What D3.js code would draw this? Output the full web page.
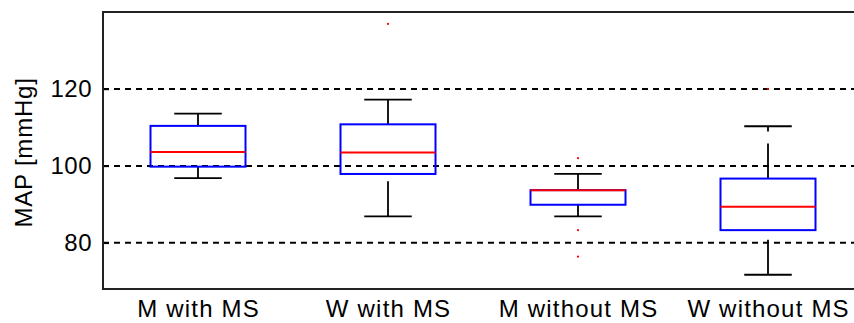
<!DOCTYPE html>
<html>
<head>
<meta charset="utf-8">
<script src="https://cdn.jsdelivr.net/npm/d3@7"></script>
<style>
  body { margin: 0; background: #fff; }
  text { font-family: Arial, "Liberation Sans", sans-serif; fill: #000; }
</style>
</head>
<body>
<svg width="854" height="323"></svg>
<script>
let svg = d3.select("svg");

// box statistics
let groups = ["M with MS", "W with MS", "M without MS", "W without MS"];
let lowWhisker = [96.8, 86.9, 86.9, 71.7];
let q1 = [99.8, 97.9, 89.9, 83.3];
let medians = [103.6, 103.5, 93.7, 89.4];
let q3 = [110.4, 110.8, 93.7, 96.7];
let highWhisker = [113.6, 117.2, 97.9, 110.3];
let outliers = [
    [],
    [136.9],
    [102.0, 83.3, 76.4],
    [120.0]
];
let yTicks = [80, 100, 120];

let x = d3.scaleLinear().domain([0.5, 4.5]).range([103, 863]);
let y = d3.scaleLinear().domain([68, 140]).range([289, 12]);

let boxes = groups.map(function(g, i) {
    return {name: g, pos: i + 1, lo: lowWhisker[i], q1: q1[i], med: medians[i],
            q3: q3[i], hi: highWhisker[i], out: outliers[i]};
});

// dashed grid
svg.append("g")
    .selectAll("line")
    .data(yTicks)
    .enter().append("line")
    .attr("x1", x(0.5)).attr("x2", x(4.5))
    .attr("y1", d => y(d)).attr("y2", d => y(d))
    .attr("stroke", "#000")
    .attr("stroke-width", 2)
    .attr("stroke-dasharray", "6,5");

// y axis, ticks pointing inward, frame drawn separately
let yAxis = svg.append("g")
    .attr("transform", "translate(" + x(0.5) + ",0)")
    .call(d3.axisLeft(y).tickValues(yTicks).tickSize(-6).tickPadding(11));
yAxis.select(".domain").remove();
yAxis.selectAll(".tick line").attr("stroke", "#000").attr("stroke-width", 1.5);
yAxis.selectAll(".tick text")
    .style("font-size", "24px")
    .style("font-family", "Arial, 'Liberation Sans', sans-serif")
    .style("letter-spacing", "0.5px")
    .attr("fill", "#000");

let box = svg.append("g").selectAll("g")
    .data(boxes)
    .enter().append("g");

// whiskers (dashed, MATLAB style)
box.append("line")
    .attr("x1", d => x(d.pos)).attr("x2", d => x(d.pos))
    .attr("y1", d => y(d.q3)).attr("y2", d => y(d.hi))
    .attr("stroke", "#000").attr("stroke-width", 1.8)
    .attr("stroke-dasharray", "35,12");
box.append("line")
    .attr("x1", d => x(d.pos)).attr("x2", d => x(d.pos))
    .attr("y1", d => y(d.lo)).attr("y2", d => y(d.q1))
    .attr("stroke", "#000").attr("stroke-width", 1.8)
    .attr("stroke-dasharray", "35,12");

// whisker caps
box.append("line")
    .attr("x1", d => x(d.pos - 0.125)).attr("x2", d => x(d.pos + 0.125))
    .attr("y1", d => y(d.hi)).attr("y2", d => y(d.hi))
    .attr("stroke", "#000").attr("stroke-width", 1.8);
box.append("line")
    .attr("x1", d => x(d.pos - 0.125)).attr("x2", d => x(d.pos + 0.125))
    .attr("y1", d => y(d.lo)).attr("y2", d => y(d.lo))
    .attr("stroke", "#000").attr("stroke-width", 1.8);

// the box
box.append("rect")
    .attr("x", d => x(d.pos - 0.25))
    .attr("width", d => x(d.pos + 0.25) - x(d.pos - 0.25))
    .attr("y", d => y(d.q3))
    .attr("height", d => y(d.q1) - y(d.q3))
    .attr("fill", "none")
    .attr("stroke", "#0000ff")
    .attr("stroke-width", 2);

// median
box.append("line")
    .attr("x1", d => x(d.pos - 0.25)).attr("x2", d => x(d.pos + 0.25))
    .attr("y1", d => y(d.med)).attr("y2", d => y(d.med))
    .attr("stroke", "#ff0000").attr("stroke-width", 2);

// outliers
box.selectAll("circle")
    .data(d => d.out.map(v => ({pos: d.pos, v: v})))
    .enter().append("circle")
    .attr("cx", d => x(d.pos))
    .attr("cy", d => y(d.v))
    .attr("r", 1.1)
    .attr("fill", "#ff0000");

// frame
svg.append("path")
    .attr("d", "M" + x(4.5) + "," + y(140) + "H" + x(0.5) + "V" + y(68) + "H" + x(4.5))
    .attr("fill", "none")
    .attr("stroke", "#222")
    .attr("stroke-width", 2);

// category labels
svg.append("g")
    .selectAll("text")
    .data(boxes)
    .enter().append("text")
    .attr("x", d => x(d.pos) + 0.6)
    .attr("y", 317)
    .attr("text-anchor", "middle")
    .style("font-size", "24px")
    .style("letter-spacing", "1.2px")
    .text(d => d.name);

// y label
svg.append("text")
    .attr("transform", "translate(32," + y(103.5) + ") rotate(-90)")
    .attr("text-anchor", "middle")
    .style("font-size", "24px")
    .style("letter-spacing", "0.8px")
    .text("MAP [mmHg]");
</script>
</body>
</html>
